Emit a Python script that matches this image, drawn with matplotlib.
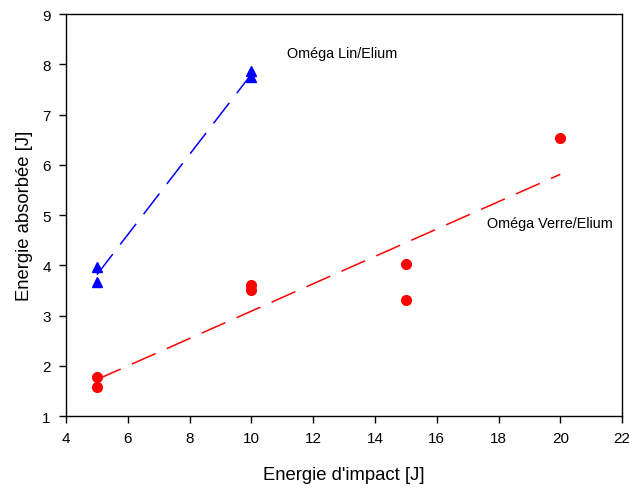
import numpy as np
import matplotlib
matplotlib.use("Agg")
import matplotlib.pyplot as plt

# Oméga Lin/Elium
lin_x = [5, 5, 10, 10]
lin_y = [3.97, 3.66, 7.86, 7.75]

# Oméga Verre/Elium
verre_x = [5, 5, 10, 10, 15, 15, 20]
verre_y = [1.78, 1.57, 3.60, 3.52, 4.02, 3.32, 6.54]

xticks = [4, 6, 8, 10, 12, 14, 16, 18, 20, 22]
yticks = [1, 2, 3, 4, 5, 6, 7, 8, 9]

plt.rcParams.update({"font.family": ["Liberation Sans", "DejaVu Sans"], "font.size": 11})

fig = plt.figure(figsize=(6.29, 4.89), dpi=100)
ax = fig.add_axes([0.105, 0.147, 0.884, 0.822])

for xs, ys, col, mk in [(lin_x, lin_y, "#0000ff", "^"), (verre_x, verre_y, "#ff0000", "o")]:
    slope, icpt = np.polyfit(xs, ys, 1)
    fx = np.array([min(xs), max(xs)])
    ax.plot(fx, slope * fx + icpt, color=col, lw=1.1, dashes=(17, 8))
    ax.plot(xs, ys, mk, color=col, ms=7, mec=col, ls="none")

ax.text(11.15, 8.22, "Oméga Lin/Elium", fontsize=10.4, va="center", ha="left")
ax.text(17.62, 4.84, "Oméga Verre/Elium", fontsize=10.4, va="center", ha="left")

ax.set_xlim(4, 22)
ax.set_ylim(1, 9)
ax.set_xticks(xticks)
ax.set_yticks(yticks)
ax.tick_params(direction="out", length=5, width=1, pad=6)
for s in ax.spines.values():
    s.set_linewidth(1)
ax.set_xlabel("Energie d'impact [J]", fontsize=13.3, labelpad=15)
ax.set_ylabel("Energie absorbée [J]", fontsize=13.3, labelpad=7)

fig.savefig("out.png", dpi=100)
